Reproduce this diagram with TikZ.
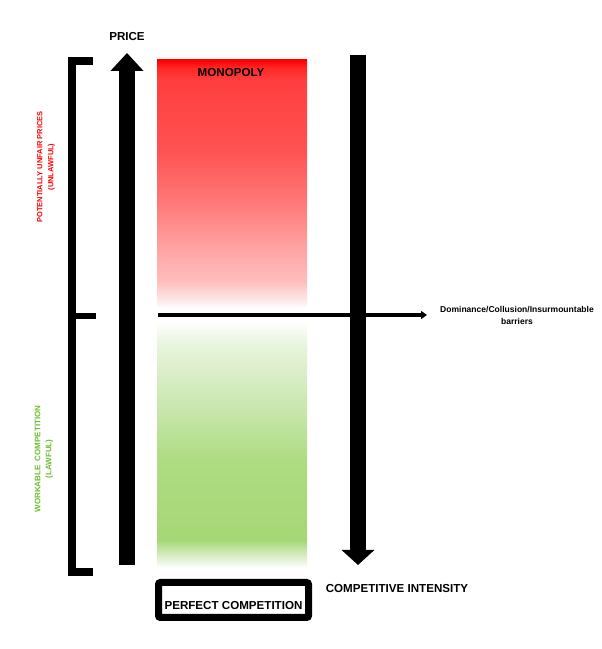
\documentclass[tikz,border=0pt]{standalone}
\usepackage{fontspec}
\setmainfont{Liberation Sans}
\usetikzlibrary{arrows.meta}
\definecolor{unfairred}{RGB}{255, 0, 0}
\definecolor{redB}{RGB}{255, 40, 40}
\definecolor{redC}{RGB}{255, 62, 62}
\definecolor{redD}{RGB}{255, 82, 82}
\definecolor{redE}{RGB}{255, 118, 118}
\definecolor{redF}{RGB}{255, 165, 165}
\definecolor{redG}{RGB}{255, 188, 188}
\definecolor{redH}{RGB}{252, 232, 232}
\definecolor{lawfulgreen}{RGB}{110, 190, 50}
\definecolor{greenB}{RGB}{214, 237, 195}
\definecolor{greenC}{RGB}{166, 215, 118}
\definecolor{greenD}{RGB}{174, 220, 130}
\definecolor{greenE}{RGB}{205, 232, 180}
\definecolor{greenF}{RGB}{232, 244, 220}
\pgfdeclareverticalshading{redfade}{100bp}{color(0bp)=(white); color(25bp)=(white);
  color(26.6bp)=(redH); color(30.6bp)=(redG); color(36.7bp)=(redF); color(46.8bp)=(redE);
  color(56.9bp)=(redD); color(71bp)=(redC); color(73.4bp)=(redB); color(75bp)=(unfairred);
  color(100bp)=(unfairred)}
\pgfdeclareverticalshading{greenfade}{100bp}{color(0bp)=(white); color(25bp)=(white);
  color(27.6bp)=(greenB); color(30.7bp)=(greenC); color(46.9bp)=(greenD); color(59bp)=(greenE);
  color(70.1bp)=(greenF); color(75bp)=(white); color(100bp)=(white)}
\tikzset{
  bigfont/.style={font=\fontsize{8.7}{10}\selectfont\bfseries},
  sidefont/.style={font=\fontsize{5.6}{8.2}\selectfont\bfseries, rotate=90, align=center},
  axisarrow/.style={line width=12pt},
}

\begin{document}
\begin{tikzpicture}[x=0.75pt, y=0.75pt]
    \useasboundingbox[fill=white] (0,0) rectangle (602,649);

    % Shaded price bands
    \shade[shading=redfade] (157,341) rectangle (307,589);
    \shade[shading=greenfade] (157,81) rectangle (307,328);

    % Price axis (up) and competitive intensity axis (down)
    \coordinate (priceBot) at (127,84);
    \coordinate (priceTop) at (127,596);
    \draw[axisarrow, -{Triangle[width=24pt, length=13.5pt]}] (priceBot) -- (priceTop);
    \coordinate (intensityTop) at (358,594);
    \coordinate (intensityBot) at (358,84);
    \draw[axisarrow, -{Triangle[width=24pt, length=11.25pt]}] (intensityTop) -- (intensityBot);
    \node[bigfont] (price) at (127,612) {PRICE};
    \node[bigfont] (intensity) at (397,60) {COMPETITIVE INTENSITY};

    % Bracket on the left
    \draw[line width=5.5pt, miter limit=10] (93,588) -- (72,588) -- (72,77) -- (93,77);
    \draw[line width=4.5pt] (72,333) -- (96,333);

    % Threshold line
    \node[font=\fontsize{6.4}{9}\selectfont\bfseries, align=center] (barriers) at (517,334)
        {Dominance/Collusion/Insurmountable\\barriers};
    \coordinate (threshold) at (158,334);
    \draw[line width=3pt, -{Triangle[width=6pt, length=4.5pt]}] (threshold) -- (427,334);

    % Labels
    \node[bigfont] (monopoly) at (231,576) {MONOPOLY};
    \node[bigfont, draw, line width=5.25pt, rounded corners=1.5pt, inner sep=1pt,
        text height=15pt, text depth=1.3pt,
        minimum width=112.5pt, minimum height=26.25pt] (perfect) at (233.5,49)
        {PERFECT COMPETITION};
    \node[sidefont, text=unfairred] (unfair) at (46,482) {POTENTIALLY UNFAIR PRICES\\(UNLAWFUL)};
    \node[sidefont, text=lawfulgreen, font=\fontsize{6}{8.2}\selectfont\bfseries] (workable) at (44,190)
        {WORKABLE\ \ COMPETITION\\(LAWFUL)};
\end{tikzpicture}
\end{document}
